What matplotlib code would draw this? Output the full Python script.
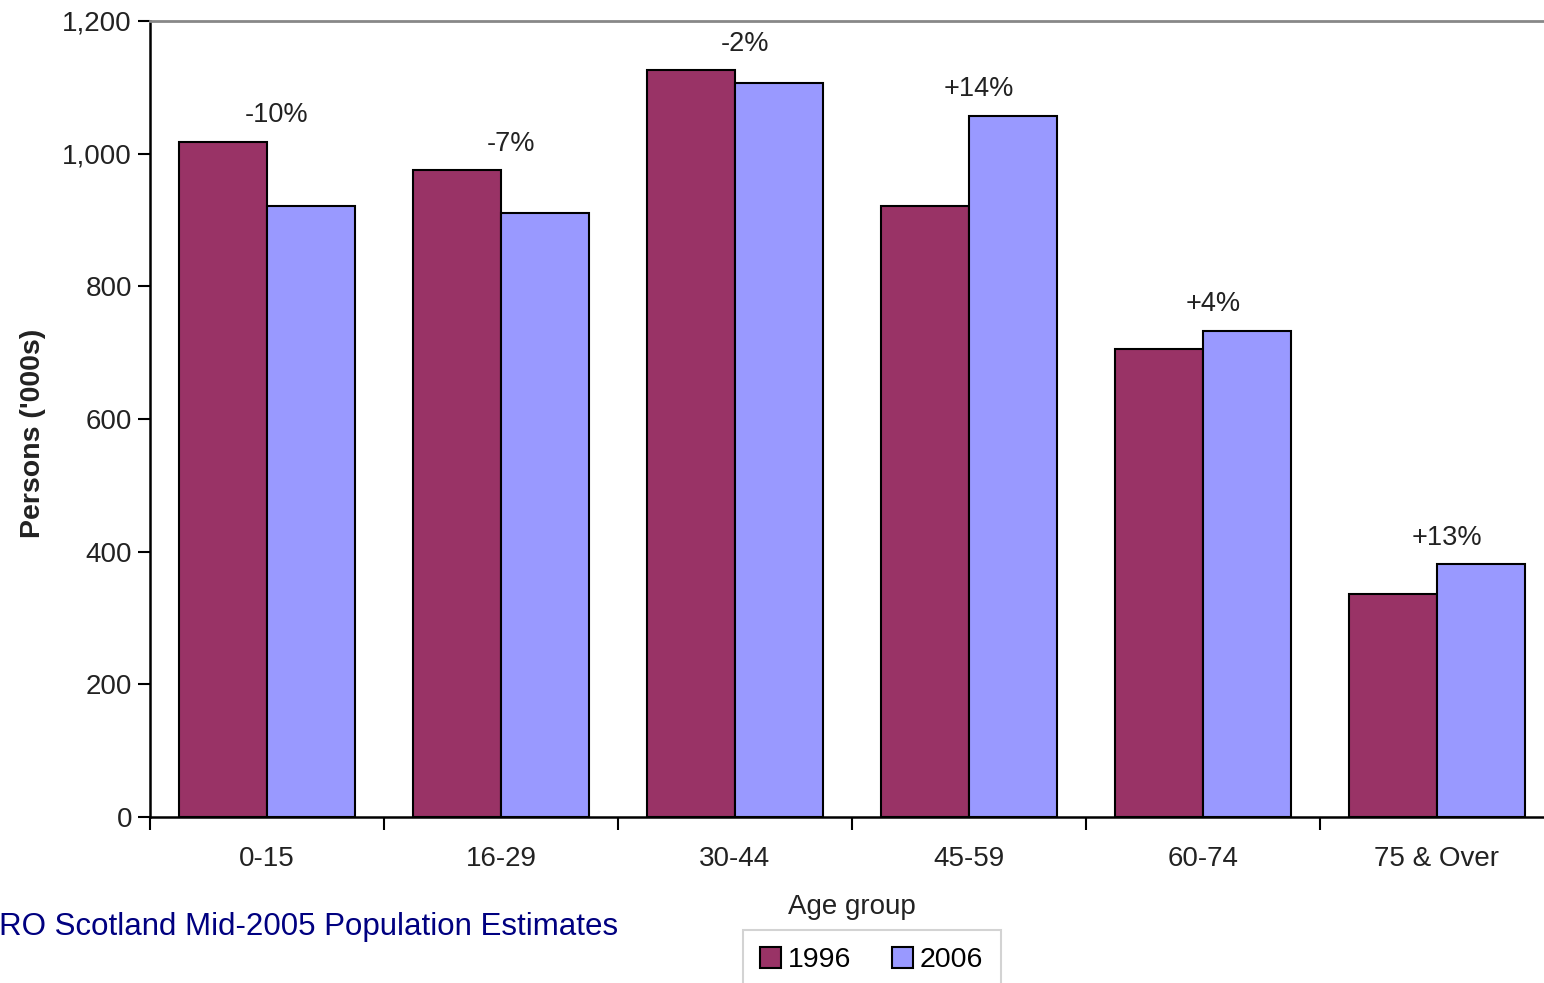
import matplotlib
matplotlib.use("Agg")
import matplotlib.pyplot as plt
import numpy as np

categories = ["0-15", "16-29", "30-44", "45-59", "60-74", "75 & Over"]
values_1996 = [1018, 975, 1126, 921, 706, 336]
values_2006 = [921, 910, 1106, 1057, 733, 381]
changes = ["-10%", "-7%", "-2%", "+14%", "+4%", "+13%"]
series_names = ["1996", "2006"]
yticks = [0, 200, 400, 600, 800, 1000, 1200]

plt.rcParams['font.family'] = ['Liberation Sans', 'DejaVu Sans']

W, H = 1544, 983
fig = plt.figure(figsize=(W / 100, H / 100), dpi=100)
ax = fig.add_axes([150 / W, 1 - 817 / H, 1404 / W, 796 / H])

x = np.arange(len(categories)) + 0.5
bw = 0.375
c1, c2 = "#993366", "#9999FF"
ax.bar(x - bw / 2, values_1996, bw, color=c1, edgecolor="black", linewidth=1.5, label=series_names[0])
ax.bar(x + bw / 2, values_2006, bw, color=c2, edgecolor="black", linewidth=1.5, label=series_names[1])

tc = "#222222"
for xi, v1, v2, lab in zip(x, values_1996, values_2006, changes):
    ax.annotate(lab, (xi, max(v1, v2)), xytext=(7, 19), textcoords="offset points",
                ha="center", va="center", fontsize=19.5, color=tc)

ax.set_xlim(0, len(categories))
ax.set_ylim(0, 1200)
ax.set_yticks(yticks)
ax.set_yticklabels([f"{v:,}" for v in yticks], fontsize=20, color=tc)
ax.set_xticks(np.arange(len(categories)))
ax.set_xticklabels([])
ax.set_xticks(x, minor=True)
ax.set_xticklabels(categories, minor=True, fontsize=20, color=tc)
ax.tick_params(axis="x", which="major", direction="out", length=9, width=1.5)
ax.tick_params(axis="x", which="minor", length=0, pad=21)
ax.tick_params(axis="y", direction="out", length=9, width=1.5, pad=4)

for s in ["left", "bottom"]:
    ax.spines[s].set_linewidth(1.8)
    ax.spines[s].set_color("black")
ax.spines["top"].set_color("#888888")
ax.spines["top"].set_linewidth(2)
ax.spines["right"].set_visible(False)

ax.set_ylabel("Persons ('000s)", fontsize=20.5, fontweight="bold", color=tc, labelpad=12)
ax.yaxis.label.set_y(0.482)
ax.set_xlabel("Age group", fontsize=20, color=tc, labelpad=16)

leg = ax.legend(loc="upper center", bbox_to_anchor=(0.514, -0.142), ncol=2, fontsize=20.5,
                frameon=True, fancybox=False, edgecolor="#c8c8c8", handlelength=0.75,
                handleheight=0.75, handletextpad=0.25, columnspacing=1.4, borderpad=0.6,
                borderaxespad=0)
leg.get_frame().set_linewidth(1.5)

fig.text(618 / W, 1 - 927 / H, "RO Scotland Mid-2005 Population Estimates", ha="right", va="center",
         fontsize=22.5, color="#000080")

fig.savefig("out.png", dpi=100)
